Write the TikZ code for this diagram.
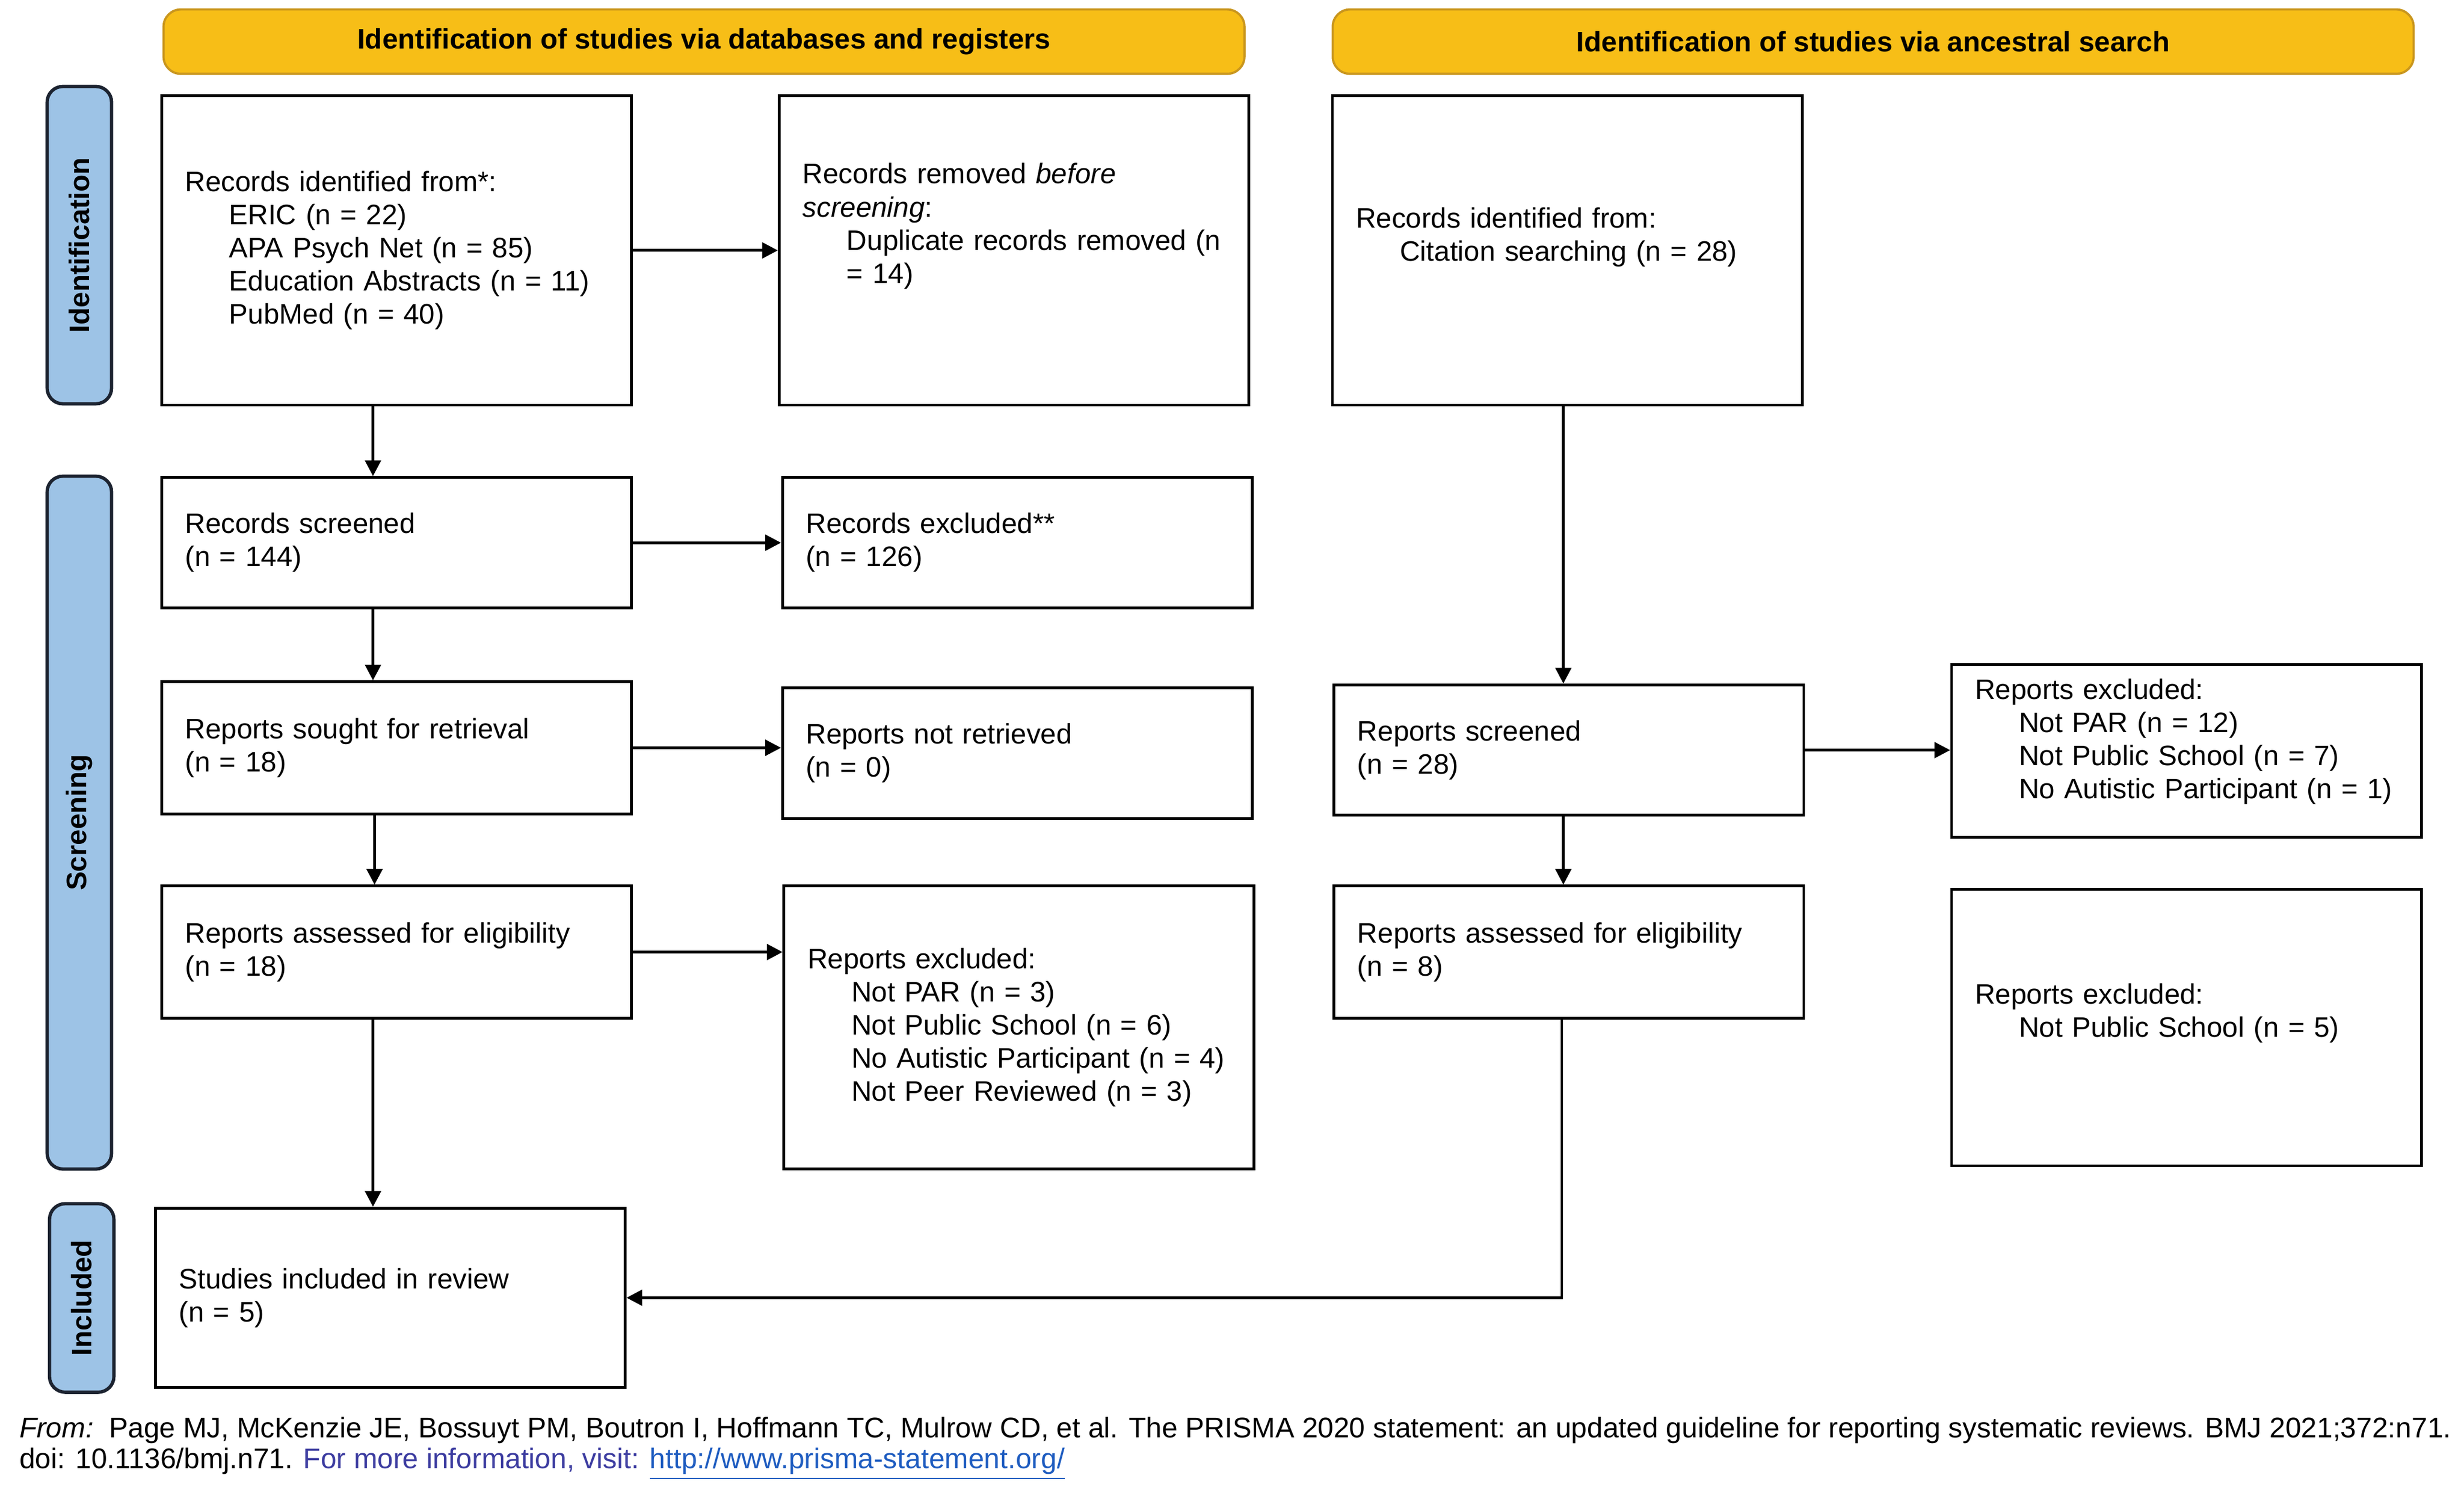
\documentclass[tikz,border=0pt]{standalone}
\usepackage{fontspec}
\setmainfont{Liberation Sans}
\usetikzlibrary{arrows.meta}
\definecolor{hdryellow}{HTML}{F7BE17}
\definecolor{hdrline}{HTML}{C9961E}
\definecolor{sideblue}{HTML}{9DC3E6}
\definecolor{sideline}{HTML}{1C2330}
\definecolor{infoblue}{HTML}{3C3CA0}
\definecolor{linkblue}{HTML}{1E5CC0}
\newcommand{\ind}{\hspace*{0.56cm}}
\newcommand{\lift}[1]{\par\kern#1\relax}
\begin{document}
\begin{tikzpicture}[x=0.02cm,y=-0.02cm]
		\tikzstyle{box}=[draw, line width=1pt, anchor=north west, inner xsep=0.3cm, inner ysep=0pt, text width=5.38cm, align=left, minimum width=5.98cm, font=\fontsize{10.2}{12}\selectfont];
		\tikzstyle{hdr}=[draw=hdrline, fill=hdryellow, line width=0.8pt, rounded corners=0.22cm, minimum width=13.76cm, minimum height=0.82cm, font=\bfseries\fontsize{10.2}{12}\selectfont];
		\tikzstyle{side}=[draw=sideline, fill=sideblue, line width=1.2pt, rounded corners=0.2cm, rotate=90, minimum height=0.82cm, font=\bfseries\fontsize{10.2}{12}\selectfont];
		\tikzstyle{arr}=[line width=1pt, -{Triangle[length=0.2cm,width=0.2cm]}];
		\useasboundingbox (0,0) rectangle (1568,946);
		% headers
		\node[hdr] (hdb) at (448,26.5) {Identification of studies via databases and registers};
		\node[hdr] (hda) at (1192,26.5) {Identification of studies via ancestral search};
		% phases
		\node[side, minimum width=4.04cm] (sid) at (50.5,156) {Identification};
		\node[side, minimum width=8.82cm] (ssc) at (50.5,523.5) {Screening};
		\node[side, minimum width=2.4cm] (sin) at (52,826) {Included};
		% databases and registers
		\node[box, minimum height=3.94cm] (recid) at (102,60) {Records identified from*:\\\ind ERIC (n = 22)\\\ind APA Psych Net (n = 85)\\\ind Education Abstracts (n = 11)\\\ind PubMed (n = 40)};
		\node[box, minimum height=3.94cm] (recrm) at (495,60) {Records removed \textit{before}\\\textit{screening}:\\\ind Duplicate records removed (n\\\ind = 14)\lift{17.6pt}};
		\node[box, minimum height=1.66cm] (recsc) at (102,303) {Records screened\\(n = 144)};
		\node[box, minimum height=1.66cm] (recex) at (497,303) {Records excluded**\\(n = 126)};
		\node[box, minimum height=1.68cm] (rsought) at (102,433) {Reports sought for retrieval\\(n = 18)};
		\node[box, minimum height=1.66cm] (rnotret) at (497,437) {Reports not retrieved\\(n = 0)};
		\node[box, minimum height=1.68cm] (rassess) at (102,563) {Reports assessed for eligibility\\(n = 18)};
		\node[box, minimum height=3.6cm] (rexcl) at (498,563) {Reports excluded:\\\ind Not PAR (n = 3)\\\ind Not Public School (n = 6)\\\ind No Autistic Participant (n = 4)\\\ind Not Peer Reviewed (n = 3)};
		\node[box, minimum height=2.28cm] (incl) at (98,768) {Studies included in review\\(n = 5)};
		% ancestral search
		\node[box, minimum height=3.94cm] (citid) at (847,60) {Records identified from:\\\ind Citation searching (n = 28)\lift{9.7pt}};
		\node[box, minimum height=1.66cm] (citsc) at (848,435) {Reports screened\\(n = 28)};
		\node[box, minimum height=2.2cm] (citex) at (1241,422) {Reports excluded:\\\ind Not PAR (n = 12)\\\ind Not Public School (n = 7)\\\ind No Autistic Participant (n = 1)\lift{6.8pt}};
		\node[box, minimum height=1.68cm] (citas) at (848,563) {Reports assessed for eligibility\\(n = 8)};
		\node[box, minimum height=3.52cm] (citexb) at (1241,565) {Reports excluded:\\\ind Not Public School (n = 5)\lift{10.2pt}};
		% arrows
		\draw[arr] (recid) -- (recrm);
		\draw[arr] ([xshift=-0.3cm]recid.south) -- ([xshift=-0.3cm]recsc.north);
		\draw[arr] (recsc) -- (recex);
		\draw[arr] ([xshift=-0.3cm]recsc.south) -- ([xshift=-0.3cm]rsought.north);
		\draw[arr] (rsought.east) -- (rsought.east -| rnotret.west);
		\draw[arr] ([xshift=-0.28cm]rsought.south) -- ([xshift=-0.28cm]rassess.north);
		\draw[arr] (rassess.east) -- (rassess.east -| rexcl.west);
		\draw[arr] ([xshift=-0.3cm]rassess.south) -- ([xshift=-0.3cm]rassess.south |- incl.north);
		\draw[arr] ([xshift=-0.05cm]citid.south) -- ([xshift=-0.05cm]citid.south |- citsc.north);
		\draw[arr] (citsc.east) -- (citsc.east -| citex.west);
		\draw[arr] ([xshift=-0.07cm]citsc.south) -- ([xshift=-0.07cm]citsc.south |- citas.north);
		\draw[arr] ([xshift=-0.09cm]citas.south) |- (incl.east);
		% source
		\node[anchor=base west, inner sep=0pt, font=\fontsize{10.28}{12}\selectfont] (src) at (12,915) {\textit{From:}\ \ Page MJ, McKenzie JE, Bossuyt PM, Boutron I, Hoffmann TC, Mulrow CD, et al. The PRISMA 2020 statement: an updated guideline for reporting systematic reviews. BMJ 2021;372:n71.};
		\node[anchor=base west, inner sep=0pt, font=\fontsize{10.28}{12}\selectfont] (info) at (12,934.5) {doi: 10.1136/bmj.n71. \textcolor{infoblue}{For more information, visit:} \textcolor{linkblue}{\underline{http://www.prisma-statement.org/}}};
	\end{tikzpicture}
\end{document}
